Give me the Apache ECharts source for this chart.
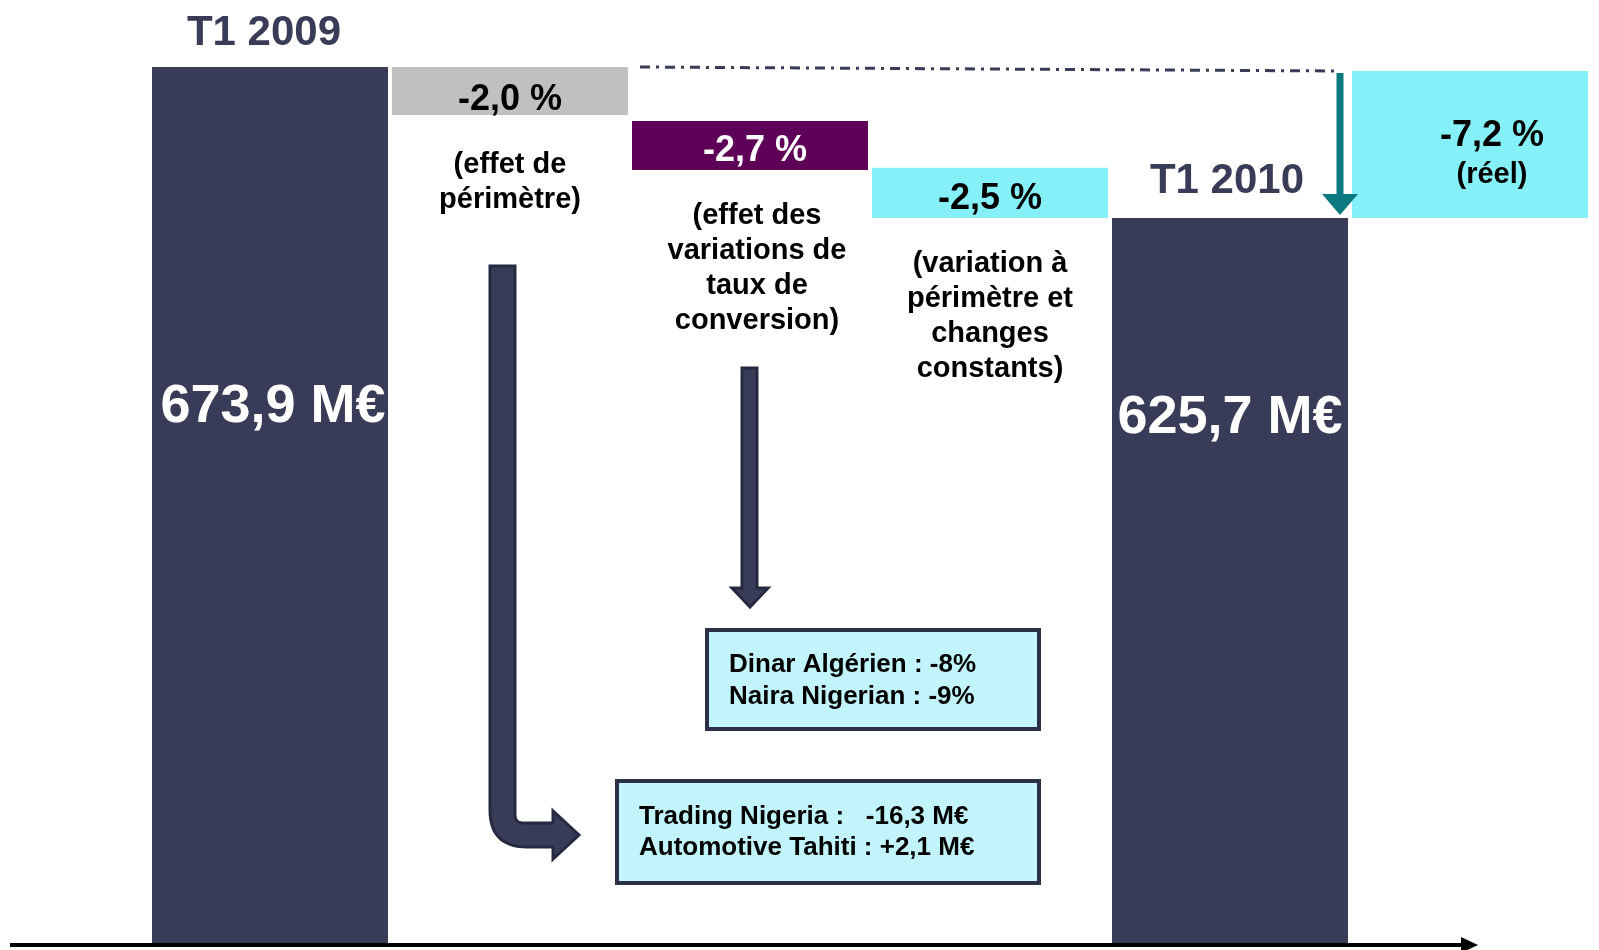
<!DOCTYPE html>
<html>
<head>
<meta charset="utf-8">
<script src="https://cdn.jsdelivr.net/npm/echarts@6/dist/echarts.min.js"></script>
<style>
html,body{margin:0;padding:0;background:#fff;}
#c{width:1599px;height:950px;}
</style>
</head>
<body>
<div id="c"></div>
<script>
// ---- data ----
const categories = ['T1 2009', 'effet de périmètre', 'effet de change', 'variation organique', 'T1 2010', 'réel'];
const totals     = [673.9, null, null, null, 625.7, null];          // M€
const boxTop     = [null, 673.9, 656.7, 641.7, null, 672.6];        // M€ (as drawn)
const boxBottom  = [null, 658.6, 641.0, 625.7, null, 625.7];        // M€ (as drawn)
const valueLabels = ['673,9 M€', '-2,0 %', '-2,7 %', '-2,5 %', '625,7 M€', '-7,2 %'];
const captions   = ['', '(effet de\npérimètre)', '(effet des\nvariations de\ntaux de\nconversion)', '(variation à\npérimètre et\nchanges\nconstants)', '', '(réel)'];
const noteFx        = ['Dinar Algérien : -8%', 'Naira Nigerian : -9%'];
const notePerimetre = ['Trading Nigeria :   -16,3 M€', 'Automotive Tahiti : +2,1 M€'];

// ---- styles ----
const FONT = '"Liberation Sans", Arial, Helvetica, sans-serif';
const NAVY = '#383c58';
const colors = [NAVY, '#c0c0c0', '#5f0058', '#85f0f8', NAVY, '#85f0f8'];
const labelColors = ['#ffffff', '#000000', '#ffffff', '#000000', '#ffffff', '#000000'];
const Y_MIN = 393.6, Y_MAX = 673.9;
const BAR_W = 236;

const baseData = categories.map((c, i) => totals[i] != null ? 0 : boxBottom[i]);
const captionDist = [0, 33, 28, 29, 0, 0];
const baseSeriesData = baseData.map((v, i) => ({
  value: v,
  label: {
    show: captions[i] !== '' && i !== 5,
    position: 'insideTop',
    distance: captionDist[i],
    offset: i === 2 ? [7, 0] : [0, 0],
    formatter: captions[i],
    fontFamily: FONT, fontWeight: 'bold', fontSize: 29, lineHeight: 35,
    color: '#000'
  }
}));

const valueSeriesData = categories.map((c, i) => {
  const isTotal = totals[i] != null;
  const v = isTotal ? totals[i] : +(boxTop[i] - boxBottom[i]).toFixed(1);
  let label;
  if (isTotal) {
    label = {
      show: true, position: ['50%', i === 0 ? 340 : 200], align: 'center', verticalAlign: 'middle',
      offset: [i === 0 ? 3 : 0, 0],
      formatter: valueLabels[i], color: labelColors[i],
      fontFamily: FONT, fontWeight: 'bold', fontSize: 54
    };
  } else if (i === 5) {
    label = {
      show: true, position: 'inside', offset: [22, 10],
      formatter: '{a|' + valueLabels[i] + '}\n{b|' + captions[i] + '}',
      rich: {
        a: {fontFamily: FONT, fontWeight: 'bold', fontSize: 36, lineHeight: 40, color: '#000', align: 'center'},
        b: {fontFamily: FONT, fontWeight: 'bold', fontSize: 29, lineHeight: 36, color: '#000', align: 'center'}
      }
    };
  } else {
    label = {
      show: true, position: 'inside', offset: [i === 2 ? 5 : 0, i === 1 ? 9 : 6],
      formatter: valueLabels[i], color: labelColors[i],
      fontFamily: FONT, fontWeight: 'bold', fontSize: 36
    };
  }
  return {value: v, itemStyle: {color: colors[i]}, label: label};
});

const option = {
  animation: false,
  backgroundColor: '#ffffff',
  grid: {left: 150, right: 9, top: 67, bottom: 5, containLabel: false},
  xAxis: {type: 'category', data: categories, show: false, boundaryGap: true},
  yAxis: {type: 'value', min: Y_MIN, max: Y_MAX, show: false},
  series: [
    {
      name: 'base', type: 'bar', stack: 'wf', barWidth: BAR_W, clip: true,
      itemStyle: {color: 'rgba(0,0,0,0)'},
      emphasis: {disabled: true},
      data: baseSeriesData
    },
    {
      name: 'value', type: 'bar', stack: 'wf', barWidth: BAR_W, clip: true,
      emphasis: {disabled: true},
      data: valueSeriesData,
      markPoint: {
        symbol: 'rect', symbolSize: 1,
        itemStyle: {color: 'rgba(0,0,0,0)'},
        label: {
          show: true, position: 'top', formatter: '{b}',
          fontFamily: FONT, fontWeight: 'bold', fontSize: 42, color: NAVY
        },
        data: [
          {name: categories[0], coord: [0, totals[0]], label: {distance: 12, offset: [-6, 0]}},
          {name: categories[4], coord: [4, totals[4]], label: {distance: 15, offset: [-3, 0]}}
        ]
      }
    }
  ]
};

const chart = echarts.init(document.getElementById('c'), null, {renderer: 'canvas'});
chart.setOption(option);

const xc = i => chart.convertToPixel({xAxisIndex: 0}, i);
const yv = v => chart.convertToPixel({yAxisIndex: 0}, v);
const half = BAR_W / 2;

const axisY = yv(Y_MIN);
const topY = yv(totals[0]);
const endY = yv(totals[4]);
const arrowX = xc(4) + half - 8;
const bentX = xc(1) - 8;
const thinX = xc(2);

// quadratic curve sampler for the rounded corner of the bent arrow
function quad(p0, c, p1, n) {
  const pts = [];
  for (let k = 1; k <= n; k++) {
    const t = k / n, u = 1 - t;
    pts.push([u * u * p0[0] + 2 * u * t * c[0] + t * t * p1[0], u * u * p0[1] + 2 * u * t * c[1] + t * t * p1[1]]);
  }
  return pts;
}
const L = bentX - 12, R = bentX + 13;
const bentPts = [[L, 266], [R, 266], [R, 815]]
  .concat(quad([R, 815], [R, 823], [R + 8, 823], 6))
  .concat([[553, 823], [553, 811], [579, 835], [553, 859], [553, 847], [L + 37, 847]])
  .concat(quad([L + 37, 847], [L, 847], [L, 810], 14));

const arrowStyle = {fill: NAVY, stroke: '#262a40', lineWidth: 3};
const noteStyle = {fill: '#c2f5fb', stroke: '#2b2f48', lineWidth: 4};
const noteText = (t, x, y) => ({
  type: 'text', x: x, y: y, z: 20,
  style: {text: t, fontFamily: FONT, fontWeight: 'bold', fontSize: 26, fill: '#000', verticalAlign: 'middle', align: 'left'}
});

const graphics = [
  // horizontal axis with arrow
  {type: 'line', z: 15, shape: {x1: 10, y1: axisY, x2: 1464, y2: axisY}, style: {stroke: '#000', lineWidth: 4}},
  {type: 'polygon', z: 15, shape: {points: [[1461, axisY - 8], [1478, axisY], [1461, axisY + 8]]}, style: {fill: '#000'}},
  // dash-dot reference line
  {type: 'line', z: 10, shape: {x1: xc(2) - half + 8, y1: topY, x2: arrowX, y2: topY + 4},
   style: {stroke: NAVY, lineWidth: 3, lineDash: [10, 6, 3, 6]}},
  // teal arrow (total change)
  {type: 'line', z: 12, shape: {x1: arrowX, y1: topY + 6, x2: arrowX, y2: endY - 22}, style: {stroke: '#0b7a80', lineWidth: 7}},
  {type: 'polygon', z: 12, shape: {points: [[arrowX - 18, endY - 24], [arrowX + 18, endY - 24], [arrowX, endY - 3]]}, style: {fill: '#0b7a80'}},
  // bent arrow (périmètre)
  {type: 'polygon', z: 12, shape: {points: bentPts}, style: arrowStyle},
  // straight arrow (change)
  {type: 'polygon', z: 12, shape: {points: [[thinX - 8, 368], [thinX + 7, 368], [thinX + 7, 588], [thinX + 18, 588], [thinX, 607], [thinX - 18, 588], [thinX - 8, 588]]},
   style: arrowStyle},
  // note boxes
  {type: 'rect', z: 18, shape: {x: 707, y: 630, width: 332, height: 99}, style: noteStyle},
  noteText(noteFx[0], 729, 665),
  noteText(noteFx[1], 729, 697),
  {type: 'rect', z: 18, shape: {x: 617, y: 781, width: 422, height: 102}, style: noteStyle},
  noteText(notePerimetre[0], 639, 817),
  noteText(notePerimetre[1], 639, 848)
];

chart.setOption({graphic: graphics});
</script>
</body>
</html>
